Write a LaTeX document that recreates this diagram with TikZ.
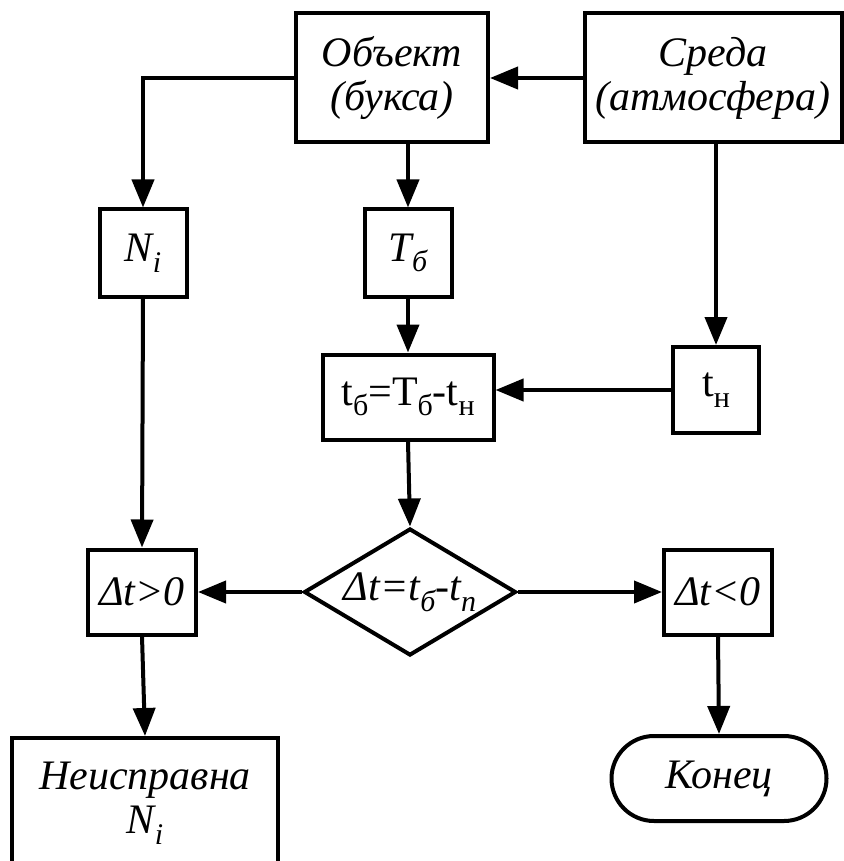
\documentclass[tikz,border=0pt]{standalone}
\usepackage{fontspec}
\setmainfont{Liberation Serif}
\usetikzlibrary{arrows.meta}
\usetikzlibrary{shapes.geometric, shapes.misc}

% lowered index as it is set in the boxes
\newcommand{\lowidx}[1]{\raisebox{-0.55ex}{\fontsize{15}{15}\selectfont #1}}

\begin{document}
\begin{tikzpicture}[x=0.5pt, y=-0.5pt, line width=2pt,
    >={Triangle[length=14pt,width=11pt]},
    every node/.style={font=\fontsize{21}{22}\selectfont\itshape, align=center, inner sep=0pt},
    box/.style={draw, rectangle, minimum width=#1},
    cond/.style={draw, diamond, aspect=1.67, minimum width=106pt, minimum height=63.5pt},
    term/.style={draw, rounded rectangle, minimum width=107.5pt, minimum height=42.5pt}]
    \useasboundingbox (0,0) rectangle (844,861);

    \node[box=96pt, minimum height=64.5pt] (obj) at (392,78) {Объект\\(букса)};
    \node[box=128.5pt, minimum height=64.5pt] (env) at (713,78) {Среда\\(атмосфера)};
    \node[box=43.5pt, minimum height=43.5pt] (ni) at (143,253) {N\lowidx{i}};
    \node[box=43.5pt, minimum height=43.5pt] (tb) at (408,253) {T\lowidx{б}};
    \node[box=85.5pt, minimum height=42.5pt, font=\fontsize{21}{22}\selectfont\upshape] (calc) at (408,397) {t\lowidx{б}=T\lowidx{б}-t\lowidx{н}};
    \node[box=43pt, minimum height=43pt, font=\fontsize{21}{22}\selectfont\upshape] (tn) at (716,390) {t\lowidx{н}};
    \node[cond] (dec) at (410,592) {Δt=t\lowidx{б}-t\lowidx{п}};
    \node[box=54pt, minimum height=42.5pt] (gt) at (142,592) {Δt>0};
    \node[box=54pt, minimum height=42.5pt] (lt) at (718,592) {Δt<0};
    \node[box=133pt, minimum height=65pt] (fault) at (145,803) {Неисправна\\N\lowidx{i}};
    \node[term] (end) at (719,778.5) {Конец};

    \draw[->] (env.west) -- (obj.east);
    \draw[->] (obj.west) -| (ni.north);
    \draw[->] (tb.north |- obj.south) -- (tb.north);
    \draw[->] (tn.north |- env.south) -- (tn.north);
    \draw[->] (tb.south) -- (calc.north);
    \draw[->] (tn.west) -- (tn.west -| calc.east);
    \draw[->] (ni.south) -- (gt.north);
    \draw[->] (calc.south) -- (dec.north);
    \draw[->] (dec.west) -- (gt.east);
    \draw[->] (dec.east) -- (lt.west);
    \draw[->] (gt.south) -- (fault.north);
    \draw[->] (lt.south) -- (end.north);
\end{tikzpicture}
\end{document}
